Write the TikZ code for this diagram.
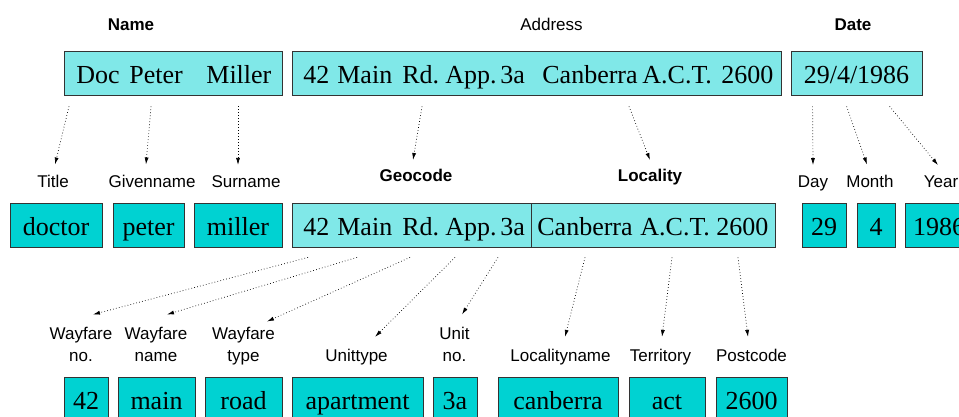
\documentclass[tikz,border=0pt]{standalone}
\usepackage{fontspec}
\setmainfont{Liberation Serif}
\setsansfont{Liberation Sans}
\usetikzlibrary{arrows.meta}
\definecolor{lightc}{HTML}{80E8E8}
\definecolor{darkc}{HTML}{00D2D2}
\begin{document}
\begin{tikzpicture}[x=1pt,y=-1pt,
 box/.style={draw=black!80, line width=0.8pt, rectangle, inner sep=0pt, text height=32pt, text depth=12pt, font=\fontsize{26}{30}\selectfont},
 upper/.style={box, fill=lightc},
 toprow/.style={upper, text height=33pt, text depth=11pt},
 leaf/.style={box, fill=darkc},
 lbl/.style={inner sep=0pt, anchor=base, font=\sffamily\fontsize{17}{22}\selectfont, align=center},
 hdr/.style={lbl, font=\sffamily\bfseries\fontsize{17}{22}\selectfont},
 arr/.style={line width=0.7pt, dash pattern=on 0.7pt off 2.3pt, -{Latex[length=7pt,width=4pt]}}
]
\useasboundingbox (0,0) rectangle (959,417);
% headers
\node[hdr] (hname) at (131,31) {Name};
\node[lbl] (haddr) at (551.5,30.5) {Address};
\node[hdr] (hdate) at (853,30.5) {Date};
% top row
\node[toprow, anchor=west] (namebox) at (64,73) {\makebox[218pt][l]{\hspace{12pt}\makebox[53pt][l]{Doc}\makebox[77pt][l]{Peter}Miller}};
\node[toprow, anchor=west] (addrbox) at (292,73) {\makebox[489pt][l]{\hspace{11pt}\makebox[34pt][l]{42}\makebox[65pt][l]{Main}\makebox[43pt][l]{Rd.}\makebox[55pt][l]{App.}\makebox[42pt][l]{3a}\makebox[100pt][l]{Canberra}\makebox[79pt][l]{A.C.T.}2600}};
\node[toprow, minimum width=131pt] (datebox) at (856.5,73) {29/4/1986};
% middle labels
\node[lbl] (title) at (53,187) {Title};
\node[lbl] (given) at (152,187) {Givenname};
\node[lbl] (surname) at (246,187) {Surname};
\node[hdr] (geocode) at (416,181.5) {Geocode};
\node[hdr] (locality) at (650,181.5) {Locality};
\node[lbl] (day) at (813,187) {Day};
\node[lbl] (month) at (870,187) {Month};
\node[lbl] (year) at (941,187) {Year};
% middle boxes
\node[leaf, minimum width=92pt] (doctor) at (56,225) {doctor};
\node[leaf, minimum width=71pt] (peter) at (148.5,225) {peter};
\node[leaf, minimum width=88pt] (miller) at (238,225) {miller};
\node[upper, anchor=west] (geobox) at (292,225) {\makebox[239pt][l]{\hspace{11pt}\makebox[34pt][l]{42}\makebox[65pt][l]{Main}\makebox[43pt][l]{Rd.}\makebox[55pt][l]{App.}3a}};
\node[upper, anchor=west] (locbox) at (531,225) {\makebox[244pt][l]{\hspace{6pt}\makebox[103pt][l]{Canberra}\makebox[76pt][l]{A.C.T.}2600}};
\node[leaf, minimum width=44pt] (d29) at (824,225) {29};
\node[leaf, minimum width=38pt] (d4) at (876,225) {4};
\node[leaf, minimum width=68pt] (d1986) at (939,225) {1986};
% bottom labels
\node[lbl] (wfno) at (81,361) {Wayfare\\no.};
\node[lbl] (wfname) at (156,361) {Wayfare\\name};
\node[lbl] (wftype) at (243.5,361) {Wayfare\\type};
\node[lbl] (unittype) at (356.5,361) {Unittype};
\node[lbl] (unitno) at (454.5,361) {Unit\\no.};
\node[lbl] (locname) at (560.5,361) {Localityname};
\node[lbl] (territory) at (660.5,361) {Territory};
\node[lbl] (postcode) at (751.5,361) {Postcode};
% bottom boxes
\node[leaf, minimum width=44pt] (b42) at (86,399) {42};
\node[leaf, minimum width=77pt] (bmain) at (156.5,399) {main};
\node[leaf, minimum width=77pt] (broad) at (243.5,399) {road};
\node[leaf, minimum width=131pt] (bapt) at (357.5,399) {apartment};
\node[leaf, minimum width=44pt] (b3a) at (455,399) {3a};
\node[leaf, minimum width=120pt] (bcan) at (558,399) {canberra};
\node[leaf, minimum width=76pt] (bact) at (667,399) {act};
\node[leaf, minimum width=71pt] (b2600) at (751.5,399) {2600};
% arrows top -> middle
\draw[arr] ([xshift=5pt,yshift=-11pt]namebox.south west) -- ([xshift=2pt,yshift=10pt]title.north);
\draw[arr] ([xshift=87pt,yshift=-11pt]namebox.south west) -- ([xshift=-6pt,yshift=10pt]given.north);
\draw[arr] ([xshift=174pt,yshift=-11pt]namebox.south west) -- ([xshift=-8pt,yshift=10pt]surname.north);
\draw[arr] ([xshift=130pt,yshift=-11pt]addrbox.south west) -- ([xshift=-3pt,yshift=9pt]geocode.north);
\draw[arr] ([xshift=337pt,yshift=-11pt]addrbox.south west) -- ([yshift=9pt]locality.north);
\draw[arr] ([xshift=22pt,yshift=-11pt]datebox.south west) -- ([yshift=10pt]day.north);
\draw[arr] ([xshift=56pt,yshift=-11pt]datebox.south west) -- ([xshift=-3pt,yshift=10pt]month.north);
\draw[arr] ([xshift=99pt,yshift=-11pt]datebox.south west) -- ([xshift=-3pt,yshift=10pt]year.north);
% arrows middle -> bottom
\draw[arr] ([xshift=16pt,yshift=-10pt]geobox.south west) -- ([xshift=12pt,yshift=12pt]wfno.north);
\draw[arr] ([xshift=65pt,yshift=-10pt]geobox.south west) -- ([xshift=11pt,yshift=12pt]wfname.north);
\draw[arr] ([xshift=118pt,yshift=-10pt]geobox.south west) -- ([xshift=23.5pt,yshift=5pt]wftype.north);
\draw[arr] ([xshift=163pt,yshift=-10pt]geobox.south west) -- ([xshift=18.5pt,yshift=11.6pt]unittype.north);
\draw[arr] ([xshift=206pt,yshift=-10pt]geobox.south west) -- ([xshift=7.5pt,yshift=12pt]unitno.north);
\draw[arr] ([xshift=54pt,yshift=-10pt]locbox.south west) -- ([xshift=4.5pt,yshift=11.6pt]locname.north);
\draw[arr] ([xshift=141pt,yshift=-10pt]locbox.south west) -- ([xshift=1.5pt,yshift=11.6pt]territory.north);
\draw[arr] ([xshift=207pt,yshift=-10pt]locbox.south west) -- ([xshift=-3.5pt,yshift=11.6pt]postcode.north);
\end{tikzpicture}
\end{document}
